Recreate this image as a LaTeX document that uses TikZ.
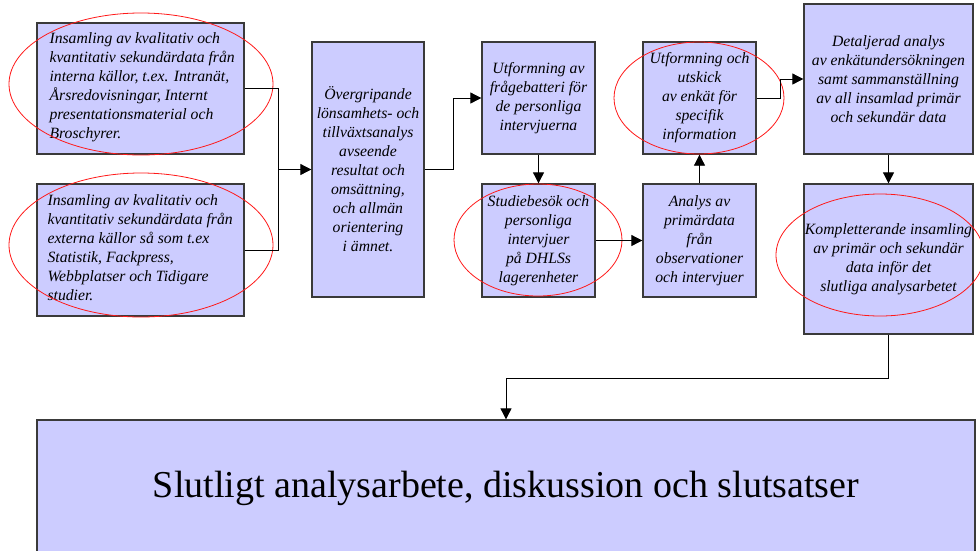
\documentclass[tikz,border=0pt]{standalone}
\usepackage{fontspec}
\setmainfont{Liberation Serif}
\usetikzlibrary{arrows.meta}
\definecolor{boxfill}{HTML}{CCCCFF}
\definecolor{boxline}{HTML}{3A3A3A}
\tikzset{
  flowbox/.style={draw=boxline, line width=1.3pt, fill=boxfill, inner sep=0pt,
    font=\fontsize{15.7}{19}\selectfont\itshape, align=center},
  lefttext/.style={inner sep=0pt, anchor=west, align=left,
    font=\fontsize{15.7}{19}\selectfont\itshape},
  conn/.style={draw=black, line width=0.8pt},
  arr/.style={conn, -{Triangle[length=11pt,width=11pt]}},
  ring/.style={draw=red!90, line width=0.8pt},
}
\begin{document}
\begin{tikzpicture}[x=1pt,y=-1pt]
\clip (0,0) rectangle (980,550);
\fill[white] (0,0) rectangle (980,550);

\node[flowbox, minimum width=207pt, minimum height=131pt] (b1) at (140.5,88.5) {};
\node[lefttext] (b1t) at ([xshift=13pt,yshift=1pt]b1.west)
 {Insamling av kvalitativ och\\kvantitativ sekundärdata från\\interna källor, t.ex. Intranät,\\Årsredovisningar, Internt\\presentationsmaterial och\\Broschyrer.};
\node[flowbox, minimum width=207pt, minimum height=132pt] (b2) at (140.5,250) {};
\node[lefttext] (b2t) at ([xshift=11pt,yshift=2pt]b2.west)
 {Insamling av kvalitativ och\\kvantitativ sekundärdata från\\externa källor så som t.ex\\Statistik, Fackpress,\\Webbplatser och Tidigare\\studier.};
\node[flowbox, minimum width=112pt, minimum height=255pt] (b3) at (368,169.5)
 {Övergripande\\lönsamhets- och\\tillväxtsanalys\\avseende\\resultat och\\omsättning,\\och allmän\\orientering\\i ämnet.};
\node[flowbox, minimum width=113pt, minimum height=112pt] (b4) at (538.5,98)
 {Utformning av\\frågebatteri för\\de personliga\\intervjuerna};
\node[flowbox, minimum width=113pt, minimum height=113pt] (b5) at (538.5,240.5)
 {Studiebesök och\\personliga\\intervjuer\\på DHLSs\\lagerenheter};
\node[flowbox, minimum width=113pt, minimum height=113pt] (b6) at (699.5,240.5)
 {Analys av\\primärdata\\från\\observationer\\och intervjuer};
\node[flowbox, minimum width=113pt, minimum height=112pt] (b7) at (699.5,98)
 {Utformning och\\utskick\\av enkät för\\specifik\\information};
\node[flowbox, minimum width=169pt, minimum height=150pt] (b8) at (888.5,79)
 {Detaljerad analys\\av enkätundersökningen\\samt sammanställning\\av all insamlad primär\\och sekundär data};
\node[flowbox, minimum width=169pt, minimum height=150pt] (b9) at (888.5,259)
 {Kompletterande insamling\\av primär och sekundär\\data inför det\\slutliga analysarbetet};
\node[draw=boxline, line width=1.3pt, fill=boxfill, minimum width=938pt, minimum height=160pt,
  inner sep=0pt] (b10) at (506,500) {};
\node[font=\fontsize{38}{44}\selectfont, inner sep=0pt, anchor=base] (t10) at (506,497)
 {Slutligt analysarbete, diskussion och slutsatser};

\draw[ring] (141,84) ellipse (132 and 71);
\draw[ring] (141,245) ellipse (132 and 72);
\draw[ring] (538,240) ellipse (84 and 56);
\draw[ring] (699,98) ellipse (85 and 56);
\draw[ring] (880,255) ellipse (104 and 61);

\coordinate (j1) at (278,169.5);
\draw[conn] (b1.east) -| (j1);
\draw[conn] (b2.east) -| (j1);
\draw[arr] (j1) -- (b3.west);
\draw[arr] (b3.east) -- ++(29,0) |- (b4.west);
\draw[arr] (b4.south) -- (b5.north);
\draw[arr] (b5.east) -- (b6.west);
\draw[arr] (b6.north) -- (b7.south);
\draw[arr] (b7.east) -- ++(24,0) |- (b8.west);
\draw[arr] (b8.south) -- (b9.north);
\draw[arr] (b9.south) -- ++(0,44) -| (b10.north);
\end{tikzpicture}
\end{document}
